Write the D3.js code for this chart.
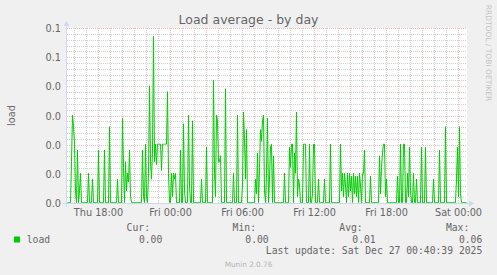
<!DOCTYPE html>
<html><head><meta charset="utf-8">
<script src="https://cdn.jsdelivr.net/npm/d3@7"></script>
<style>
html,body{margin:0;padding:0;background:#F0F0F0;}
svg{display:block;}
</style></head><body>
<script>
const chartTitle = "Load average - by day";
const yAxisLabel = "load";
const seriesName = "load";
const startTime = new Date(2025, 11, 25, 15, 25); // Thu Dec 25 15:25
const stepMinutes = 5;
const loadValues = [
  0,0,0,0,.014,.030,.026,.020,.004,0, .018,0,.004,.010,0,0,0,0,0,0,
  0,.010,0,0,0,.008,0,0,0,0, 0,.018,0,0,0,0,0,.018,0,0,
  0,0,.026,0,0,0,0,0,0,0, .008,0,0,0,0,.029,.012,0,.014,.004,
  .010,.007,.018,.002,0,0,0,0,0,0, 0,0,0,0,0,.018,.002,0,.020,.002,
  0,.010,.040,.014,.008,.018,.057,.014,.020,.013, .020,.020,.020,.020,.011,.020,.020,.020,.020,.020,
  .038,.010,0,0,.010,.002,.010,.008,.010,0, 0,0,0,.018,0,0,.027,.004,0,0,
  0,.030,.006,0,0,.028,0,0,0,0, 0,0,0,0,.008,0,0,0,0,.019,
  0,0,0,0,0,0,.042,.010,.002,.030, .028,.014,.014,.016,0,0,0,0,.039,0,
  0,0,0,0,0,0,.010,0,0,0, .030,0,0,0,0,.006,.031,.022,.008,.025,
  0,0,0,0,0,0,0,0,.008,.003, .017,0,.012,.025,.021,.028,.030,.004,0,.010,
  .029,0,.008,.019,.020,0,.016,0,0,0, 0,0,0,0,0,0,0,.010,0,0,
  0,0,.019,.012,.020,.020,0,.017,.010,.031, .002,.008,.006,0,0,0,.020,.020,.020,0,
  0,0,.020,0,0,.003,.020,.020,0,0, 0,.008,0,0,0,0,0,.008,0,0,
  0,0,0,.020,0,0,0,0,0,0, 0,0,0,.020,.004,.010,.002,.010,.006,0,
  .010,.002,.010,.004,.009,0,.010,.003,.009,.002, .009,0,.010,.006,0,.010,.010,.018,0,0,
  0,0,0,.009,0,0,0,0,0,0, 0,0,.016,.003,.012,.017,.020,.020,.002,.008,
  0,0,0,0,0,0,0,0,0,0, .009,0,0,.020,0,0,.020,.020,0,0,
  .010,.002,.019,.004,0,0,.010,0,0,.008, 0,0,0,0,.019,0,0,0,.019,0,
  0,0,0,0,0,0,.008,0,0,0, 0,0,.018,0,0,0,0,0,.026,0,
  0,0,0,0,0,0,0,0,0,.008, .019,.002,.026,.003,0,0,0,0,0,0
];
const yTicks = [0, 0.01, 0.02, 0.03, 0.04, 0.05, 0.06];
const yTickLabels = ["0.0","0.0","0.0","0.0","0.0","0.1","0.1"];
const xTickTimes = [
  new Date(2025,11,25,18,0), new Date(2025,11,26,0,0), new Date(2025,11,26,6,0),
  new Date(2025,11,26,12,0), new Date(2025,11,26,18,0), new Date(2025,11,27,0,0)
];
const xTickLabels = ["Thu 18:00","Fri 00:00","Fri 06:00","Fri 12:00","Fri 18:00","Sat 00:00"];
const legendHeaders = ["Cur:","Min:","Avg:","Max:"];
const legendValues = ["0.00","0.00","0.01","0.06"];
const lastUpdate = "Last update: Sat Dec 27 00:40:39 2025";
const footer = "Munin 2.0.76";
const watermark = "RRDTOOL / TOBI OETIKER";

const W = 497, H = 275;
const X0 = 67, X1 = 467, Y0 = 203, Y1 = 28;
const endTime = new Date(startTime.getTime() + loadValues.length * stepMinutes * 60000);

const svg = d3.select("body").append("svg").attr("width", W).attr("height", H);
svg.append("rect").attr("width", W).attr("height", H).attr("fill", "#F0F0F0");

const x = d3.scaleTime().domain([startTime, endTime]).range([X0, X1]);
const y = d3.scaleLinear().domain([0, 0.06]).range([Y0, Y1]);

svg.append("rect").attr("x", X0).attr("y", Y1).attr("width", X1 - X0).attr("height", Y0 - Y1).attr("fill", "#FFFFFF");

const minorCol = "rgba(143,143,143,0.42)";
const majorCol = "rgba(222,80,80,0.38)";
const grid = svg.append("g");

// horizontal minor grid
const yMinor = y.ticks(30);
grid.selectAll("line.hmin").data(yMinor.filter(v => !yTicks.some(t => Math.abs(t - v) < 1e-9)))
  .join("line").attr("x1", X0).attr("x2", X1)
  .attr("y1", d => Math.round(y(d)) + 0.5).attr("y2", d => Math.round(y(d)) + 0.5)
  .attr("stroke", minorCol).attr("stroke-dasharray", "1,1");
// vertical minor grid (hourly)
const hours = d3.timeHour.every(1).range(startTime, endTime);
grid.selectAll("line.vmin").data(hours.filter(d => d.getHours() % 3 !== 0))
  .join("line").attr("y1", Y1).attr("y2", Y0)
  .attr("x1", d => Math.round(x(d)) + 0.5).attr("x2", d => Math.round(x(d)) + 0.5)
  .attr("stroke", minorCol).attr("stroke-dasharray", "1,1");
// major grid
grid.selectAll("line.hmaj").data(yTicks.slice(1))
  .join("line").attr("x1", X0).attr("x2", X1)
  .attr("y1", d => Math.round(y(d)) + 0.5).attr("y2", d => Math.round(y(d)) + 0.5)
  .attr("stroke", majorCol).attr("stroke-dasharray", "1,1");
grid.selectAll("line.vmaj").data(hours.filter(d => d.getHours() % 3 === 0))
  .join("line").attr("y1", Y1).attr("y2", Y0)
  .attr("x1", d => Math.round(x(d)) + 0.5).attr("x2", d => Math.round(x(d)) + 0.5)
  .attr("stroke", majorCol).attr("stroke-dasharray", "1,1");

// data line
const pts = loadValues.map((v, i) => ({t: new Date(startTime.getTime() + i * stepMinutes * 60000), v}));
svg.append("path").datum(pts)
  .attr("fill", "none").attr("stroke", "#00CC00").attr("stroke-width", 1)
  .attr("d", d3.line().x(d => x(d.t) + 0.5).y(d => y(d.v) - 0.5));

// axes lines and arrows
const axisCol = "#CFD6F8";
svg.append("line").attr("x1", X0 - 4).attr("x2", X1 + 4).attr("y1", Y0 + 0.5).attr("y2", Y0 + 0.5).attr("stroke", axisCol);
svg.append("line").attr("x1", X0 - 0.5).attr("x2", X0 - 0.5).attr("y1", Y0 + 4).attr("y2", Y1 - 4).attr("stroke", axisCol);
svg.append("path").attr("d", `M${X1+2},${Y0-2.5}L${X1+2},${Y0+3.5}L${X1+7},${Y0+0.5}Z`).attr("fill", axisCol);
svg.append("path").attr("d", `M${X0-3.5},${Y1-2}L${X0+2.5},${Y1-2}L${X0-0.5},${Y1-7}Z`).attr("fill", axisCol);

const font = "DejaVu Sans, sans-serif";
const mono = "DejaVu Sans Mono, monospace";
const fontCol = "#666666";

// y axis labels
const yAxis = d3.axisLeft(y).tickValues(yTicks).tickFormat((d, i) => yTickLabels[i]).tickSize(0).tickPadding(0);
const gy = svg.append("g").attr("transform", `translate(${X0 - 6},0)`).call(yAxis);
gy.select(".domain").remove();
gy.selectAll("text").attr("font-family", font).attr("font-size", "9.72px").attr("fill", fontCol).attr("dy", "0.36em");

// x axis labels
const xAxis = d3.axisBottom(x).tickValues(xTickTimes).tickFormat((d, i) => xTickLabels[i]).tickSize(0).tickPadding(0);
const gx = svg.append("g").attr("transform", `translate(0,${Y0})`).call(xAxis);
gx.select(".domain").remove();
gx.selectAll("text").attr("font-family", font).attr("font-size", "9.72px").attr("fill", fontCol).attr("dy", null).attr("y", 13);

// title
svg.append("text").attr("x", 248.5).attr("y", 24).attr("text-anchor", "middle")
  .attr("font-family", font).attr("font-size", "12.5px").attr("fill", fontCol).text(chartTitle);

// y label
svg.append("text").attr("transform", `translate(15,115.5) rotate(-90)`).attr("text-anchor", "middle")
  .attr("font-family", font).attr("font-size", "9.72px").attr("fill", fontCol).text(yAxisLabel);

// watermark
svg.append("text").attr("transform", `translate(485.5,53) rotate(90)`).attr("text-anchor", "middle")
  .attr("font-family", font).attr("font-size", "7.5px").attr("fill", "#C4C4C4").text(watermark);

// legend
const headerRight = [150, 256, 362.7, 469.3];
const valueRight = [162.3, 268.7, 375.7, 482.3];
svg.selectAll("text.lh").data(legendHeaders).join("text")
  .attr("x", (d, i) => headerRight[i]).attr("y", 231).attr("text-anchor", "end")
  .attr("font-family", mono).attr("font-size", "9.72px").attr("fill", fontCol).text(d => d);
svg.append("rect").attr("x", 14).attr("y", 236.5).attr("width", 6).attr("height", 6).attr("fill", "#00CC00");
svg.append("text").attr("x", 26.7).attr("y", 242.5)
  .attr("font-family", mono).attr("font-size", "9.72px").attr("fill", fontCol).text(seriesName);
svg.selectAll("text.lv").data(legendValues).join("text")
  .attr("x", (d, i) => valueRight[i]).attr("y", 242.5).attr("text-anchor", "end")
  .attr("font-family", mono).attr("font-size", "9.72px").attr("fill", fontCol).text(d => d);
svg.append("text").attr("x", 482.3).attr("y", 253.5).attr("text-anchor", "end")
  .attr("font-family", mono).attr("font-size", "9.72px").attr("fill", fontCol).text(lastUpdate);
svg.append("text").attr("x", 248.5).attr("y", 267).attr("text-anchor", "middle")
  .attr("font-family", font).attr("font-size", "7.3px").attr("fill", "#B4B4B4").text(footer);
</script>
</body></html>
